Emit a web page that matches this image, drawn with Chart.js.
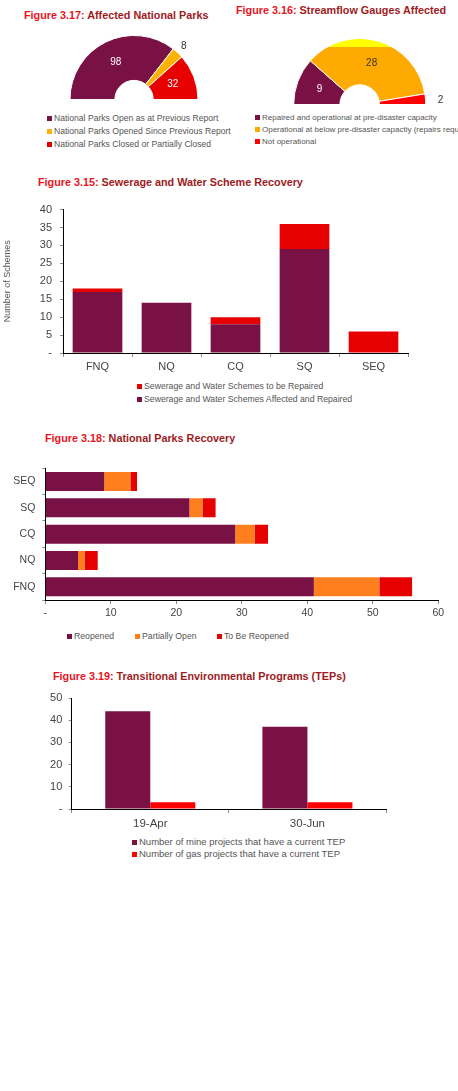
<!DOCTYPE html>
<html>
<head>
<meta charset="utf-8">
<script src="https://cdn.jsdelivr.net/npm/chart.js@4.4.1/dist/chart.umd.min.js"></script>
<style>
  body { margin: 0; background: #fff; width: 458px; height: 1091px; position: relative; overflow: hidden;
         font-family: "Liberation Sans", Arial, sans-serif; }
  .title { position: absolute; font-size: 10.8px; font-weight: bold; white-space: nowrap; color: #9e1b1e; line-height: 12px; }
  .title b { color: #e8141c; }
  .box { position: absolute; }
  .legend { position: absolute; color: #555; white-space: nowrap; }
  .legend .sq { display: inline-block; width: 5px; height: 5px; margin-right: 2px; vertical-align: 0px; }
</style>
</head>
<body>

<div class="title" style="left:24px;top:8.5px"><b>Figure 3.17:</b> Affected National Parks</div>
<div class="title" style="left:236px;top:4px"><b>Figure 3.16:</b> Streamflow Gauges Affected</div>
<div class="title" style="left:38px;top:176px"><b>Figure 3.15:</b> Sewerage and Water Scheme Recovery</div>
<div class="title" style="left:45px;top:432px"><b>Figure 3.18:</b> National Parks Recovery</div>
<div class="title" style="left:53px;top:669.5px"><b>Figure 3.19:</b> Transitional Environmental Programs (TEPs)</div>

<div class="box" style="left:0;top:30px;width:229px;height:75px"><canvas id="parksGauge"></canvas></div>
<div class="box" style="left:229px;top:30px;width:229px;height:82px"><canvas id="streamGauge"></canvas></div>
<div class="box" style="left:0;top:195px;width:458px;height:180px"><canvas id="sewerChart"></canvas></div>
<div class="box" style="left:0;top:455px;width:458px;height:167px"><canvas id="parksChart"></canvas></div>
<div class="box" style="left:0;top:685px;width:458px;height:148px"><canvas id="tepChart"></canvas></div>

<script>
// Figure 3.17 - affected national parks
var parkStatusLabels = ["National Parks Open as at Previous Report", "National Parks Opened Since Previous Report", "National Parks Closed or Partially Closed"];
var parkStatusValues = [98, 8, 32];

// Figure 3.16 - streamflow gauges
var gaugeLabels = ["Repaired and operational at pre-disaster capacity", "Operational at below pre-disaster capactiy (repairs required)", "Not operational"];
var gaugeValues = [9, 28, 2];

// Figure 3.15 - sewerage and water schemes
var regions = ["FNQ", "NQ", "CQ", "SQ", "SEQ"];
var schemesRepaired = [17, 14, 8, 29, 0];
var schemesToRepair = [1, 0, 2, 7, 6];

// Figure 3.18 - national parks recovery (same regions)
var parksReopened = [41, 5, 29, 22, 9];
var parksPartial = [10, 1, 3, 2, 4];
var parksToReopen = [5, 2, 2, 2, 1];

// Figure 3.19 - TEPs
var tepDates = ["19-Apr", "30-Jun"];
var mineTeps = [44, 37];
var gasTeps = [3, 3];

var PURPLE = "#7a1145";
var FONT = '"Liberation Sans", Arial, sans-serif';
Chart.defaults.font.family = FONT;
Chart.defaults.animation = false;
Chart.defaults.plugins.legend.display = false;
Chart.defaults.plugins.tooltip.enabled = false;

function dash(v) { return v === 0 ? "-" : v; }

// value labels on the half doughnuts
var sliceLabels = {
    id: "sliceLabels",
    afterDatasetsDraw: function (chart, args, opts) {
        var ctx = chart.ctx;
        var meta = chart.getDatasetMeta(0);
        var vals = chart.data.datasets[0].data;
        ctx.save();
        ctx.font = "10px " + FONT;
        ctx.textAlign = "center";
        ctx.textBaseline = "middle";
        meta.data.forEach(function (arc, i) {
            var x, y;
            if (opts.outside[i]) {
                var p = arc.getProps(["x", "y", "startAngle", "endAngle", "outerRadius"]);
                var mid = (p.startAngle + p.endAngle) / 2;
                var r = p.outerRadius + opts.outside[i];
                x = p.x + Math.cos(mid) * r;
                y = p.y + Math.sin(mid) * r + (opts.dy ? opts.dy[i] : 0);
            } else {
                var pos = arc.tooltipPosition();
                x = pos.x; y = pos.y;
            }
            ctx.fillStyle = opts.colors[i];
            ctx.fillText(vals[i], x, y);
        });
        ctx.restore();
    }
};

function gaugeOptions(pad, labelColors, outside, dy) {
    return {
        responsive: true,
        maintainAspectRatio: false,
        rotation: -90,
        circumference: 180,
        cutout: "30%",
        layout: { padding: pad },
        plugins: { sliceLabels: { colors: labelColors, outside: outside, dy: dy } }
    };
}

new Chart(document.getElementById("parksGauge"), {
    type: "doughnut",
    data: {
        labels: parkStatusLabels,
        datasets: [{ data: parkStatusValues, backgroundColor: [PURPLE, "#ffb300", "#e60000"], borderColor: "#fff", borderWidth: 1 }]
    },
    options: gaugeOptions({ top: 5, bottom: 5, left: 60, right: 21 }, ["#fff", "#333", "#fff"], [0, 9, 0]),
    plugins: [sliceLabels]
});

// the middle slice has a yellow cap in the original
function capFill(c) {
    var a = c.chart.chartArea;
    if (!a) return "#ffaa00";
    var g = c.chart.ctx.createLinearGradient(0, a.top, 0, a.bottom);
    g.addColorStop(0, "#ffff00");
    g.addColorStop(0.135, "#ffff00");
    g.addColorStop(0.135, "#ffaa00");
    g.addColorStop(1, "#ffaa00");
    return g;
}

new Chart(document.getElementById("streamGauge"), {
    type: "doughnut",
    data: {
        labels: gaugeLabels,
        datasets: [{
            data: gaugeValues,
            backgroundColor: function (c) { return [PURPLE, capFill(c), "#ff0000"][c.dataIndex]; },
            borderColor: "#fff", borderWidth: 1
        }]
    },
    options: gaugeOptions({ top: 8, bottom: 7, left: 50, right: 17.6 }, ["#fff", "#333", "#333"], [0, 0, 15], [0, 0, 2.5]),
    plugins: [sliceLabels]
});

var axisBorder = { color: "#000", width: 1 };
var tickGrid = { drawOnChartArea: false, drawTicks: true, tickLength: 3, color: "#8c8c8c" };

new Chart(document.getElementById("sewerChart"), {
    type: "bar",
    data: {
        labels: regions,
        datasets: [
            { label: "Sewerage and Water Schemes Affected and Repaired", data: schemesRepaired, backgroundColor: PURPLE },
            { label: "Sewerage and Water Schemes to be Repaired", data: schemesToRepair, backgroundColor: "#e60000" }
        ]
    },
    options: {
        responsive: true,
        maintainAspectRatio: false,
        layout: { padding: { top: 12.7, right: 50, left: 0, bottom: 0 } },
        scales: {
            x: {
                stacked: true,
                ticks: { color: "#444", font: { size: 11 }, padding: 3 },
                grid: { drawOnChartArea: false, tickLength: 4, color: "#8c8c8c", offset: true },
                border: axisBorder,
                afterFit: function (s) { s.height = 22; }
            },
            y: {
                stacked: true, min: 0, max: 40,
                ticks: { stepSize: 5, color: "#444", font: { size: 11 }, padding: 8, callback: dash },
                grid: tickGrid,
                border: axisBorder,
                title: { display: true, text: "Number of Schemes", color: "#555", font: { size: 9 }, padding: 2 },
                afterFit: function (s) { s.width = 63; }
            }
        }
    }
});

new Chart(document.getElementById("parksChart"), {
    type: "bar",
    data: {
        labels: regions,
        datasets: [
            { label: "Reopened", data: parksReopened, backgroundColor: PURPLE },
            { label: "Partially Open", data: parksPartial, backgroundColor: "#ff7f1e" },
            { label: "To Be Reopened", data: parksToReopen, backgroundColor: "#e60000" }
        ]
    },
    options: {
        indexAxis: "y",
        responsive: true,
        maintainAspectRatio: false,
        layout: { padding: { top: 12, right: 19.7, left: 0, bottom: 0 } },
        scales: {
            x: {
                stacked: true, min: 0, max: 60,
                ticks: { stepSize: 10, color: "#444", font: { size: 10.5 }, padding: 3, callback: dash },
                grid: { drawOnChartArea: false, tickLength: 4, color: "#8c8c8c" },
                border: axisBorder,
                afterFit: function (s) { s.height = 22; }
            },
            y: {
                stacked: true, reverse: true,
                ticks: { color: "#444", font: { size: 10.5 }, padding: 7 },
                grid: tickGrid,
                border: axisBorder,
                afterFit: function (s) { s.width = 45.3; }
            }
        }
    }
});

new Chart(document.getElementById("tepChart"), {
    type: "bar",
    data: {
        labels: tepDates,
        datasets: [
            { label: "Number of mine projects that have a current TEP", data: mineTeps, backgroundColor: PURPLE },
            { label: "Number of gas projects that have a current TEP", data: gasTeps, backgroundColor: "#ff0000" }
        ]
    },
    options: {
        responsive: true,
        maintainAspectRatio: false,
        layout: { padding: { top: 11.7, right: 72, left: 0, bottom: 0 } },
        datasets: { bar: { categoryPercentage: 0.573, barPercentage: 1 } },
        scales: {
            x: {
                ticks: { color: "#444", font: { size: 11.5 }, padding: 4 },
                grid: { drawOnChartArea: false, tickLength: 4, color: "#8c8c8c", offset: true },
                border: axisBorder,
                afterFit: function (s) { s.height = 24; }
            },
            y: {
                min: 0, max: 50,
                ticks: { stepSize: 10, color: "#444", font: { size: 11 }, padding: 6.4, callback: dash },
                grid: tickGrid,
                border: axisBorder,
                afterFit: function (s) { s.width = 71.7; }
            }
        }
    }
});

// legends, built from the same labels and colours; each item is [text, colour, x]
function legend(firstRowY, lineH, size, rows) {
    rows.forEach(function (row, ri) {
        row.forEach(function (item) {
            var el = document.createElement("div");
            el.className = "legend";
            el.style.fontSize = size + "px";
            el.style.left = item[2] + "px";
            el.style.top = (firstRowY + ri * lineH - lineH / 2) + "px";
            el.style.height = lineH + "px";
            el.style.lineHeight = lineH + "px";
            var sq = document.createElement("span");
            sq.className = "sq";
            sq.style.background = item[1];
            el.appendChild(sq);
            el.appendChild(document.createTextNode(item[0]));
            document.body.appendChild(el);
        });
    });
}

legend(118, 13, 8.6, [[[parkStatusLabels[0], PURPLE, 47]], [[parkStatusLabels[1], "#ffb300", 47]], [[parkStatusLabels[2], "#e60000", 47]]]);
legend(118, 12, 8, [[[gaugeLabels[0], PURPLE, 255]], [[gaugeLabels[1], "#ffaa00", 255]], [[gaugeLabels[2], "#ff0000", 255]]]);
legend(386.5, 13, 8.7, [[["Sewerage and Water Schemes to be Repaired", "#e60000", 137]], [["Sewerage and Water Schemes Affected and Repaired", PURPLE, 137]]]);
legend(636, 12, 8.7, [[["Reopened", PURPLE, 67], ["Partially Open", "#ff7f1e", 135], ["To Be Reopened", "#e60000", 217]]]);
legend(842, 11.5, 9.5, [[["Number of mine projects that have a current TEP", PURPLE, 132]], [["Number of gas projects that have a current TEP", "#ff0000", 132]]]);
</script>
</body>
</html>
